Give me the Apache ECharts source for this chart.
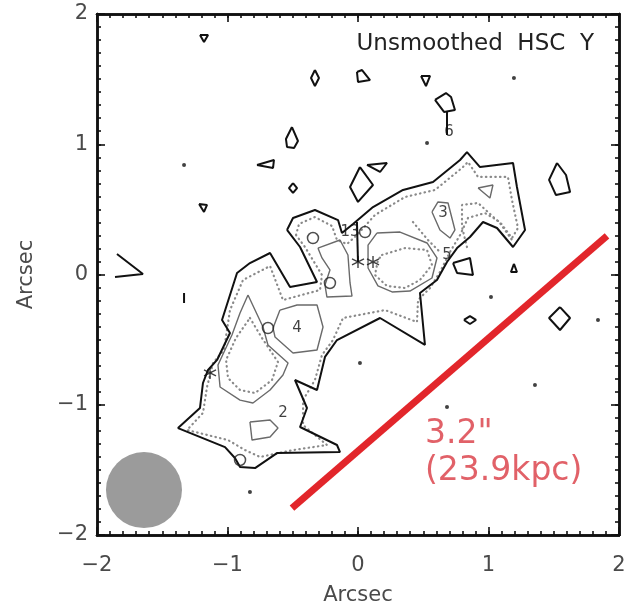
<!DOCTYPE html>
<html>
<head>
<meta charset="utf-8">
<script src="https://cdn.jsdelivr.net/npm/echarts@6/dist/echarts.min.js"></script>
<style>
  html, body { margin: 0; padding: 0; background: #ffffff; }
  #chart { width: 628px; height: 607px; }
</style>
</head>
<body>
<div id="chart"></div>
<script>
// Axis range and ticks (arcsec)
const axisMin = -2, axisMax = 2, axisStep = 1, minorStep = 0.1;

// Outer (lowest) contour level, solid black
const outerContour = [
  [-0.544,0.342],[-0.498,0.434],[-0.330,0.495],[-0.153,0.418],[-0.123,0.319],[-0.038,0.388],
  [0.115,0.518],[0.345,0.649],[0.575,0.710],[0.782,0.879],[0.835,0.940],[0.935,0.825],
  [1.188,0.856],[1.218,0.672],[1.280,0.342],[1.188,0.211],[1.065,0.357],[0.958,0.403],
  [0.858,0.288],[0.759,0.203],[0.682,0.096],[0.605,-0.042],[0.475,-0.142],[0.513,-0.541],
  [0.169,-0.334],[-0.161,-0.503],[-0.253,-0.633],[-0.314,-0.887],[-0.483,-0.810],[-0.391,-1.025],
  [-0.444,-1.171],[-0.161,-1.309],[-0.138,-1.363],[-0.621,-1.371],[-0.789,-1.486],[-0.904,-1.478],
  [-0.943,-1.409],[-1.019,-1.325],[-1.379,-1.179],[-1.211,-1.025],[-1.188,-0.833],[-1.149,-0.733],
  [-1.080,-0.656],[-0.981,-0.449],[-1.042,-0.349],[-0.927,0.012],[-0.828,0.088],[-0.674,0.165],
  [-0.521,-0.096],[-0.314,-0.058],[-0.444,0.211]
];

// Second level, dotted grey
const dottedContour = [
  [-0.475,0.303],[-0.452,0.388],[-0.330,0.441],[-0.199,0.372],[-0.161,0.265],[-0.084,0.234],
  [-0.008,0.303],[0.130,0.457],[0.360,0.595],[0.590,0.649],[0.797,0.818],[0.843,0.864],
  [0.920,0.749],[1.149,0.749],[1.180,0.572],[1.226,0.357],[1.180,0.280],[1.088,0.403],
  [0.973,0.472],[0.843,0.434],[0.782,0.303],[0.705,0.173],[0.628,0.019],[0.552,-0.104],
  [0.460,-0.196],[0.452,-0.365],[0.207,-0.273],[-0.115,-0.334],[-0.192,-0.503],[-0.276,-0.618],
  [-0.330,-0.810],[-0.421,-0.964],[-0.421,-1.156],[-0.238,-1.309],[-0.498,-1.348],[-0.751,-1.401],
  [-0.866,-1.348],[-0.996,-1.271],[-1.310,-1.194],[-1.188,-1.063],[-1.157,-0.864],[-1.111,-0.680],
  [-1.027,-0.580],[-0.981,-0.273],[-0.881,-0.042],[-0.674,0.065],[-0.575,-0.196],[-0.291,-0.119],
  [-0.276,-0.004],[-0.406,0.211]
];
const dottedCentre = [
  [0.184,0.150],[0.360,0.203],[0.529,0.188],[0.567,0.073],[0.475,-0.042],[0.360,-0.104],
  [0.222,-0.088],[0.130,-0.004],[0.153,0.111]
];
const dottedLowerLeft = [
  [-0.828,-0.334],[-0.736,-0.487],[-0.613,-0.672],[-0.659,-0.810],[-0.789,-0.910],
  [-0.904,-0.887],[-0.996,-0.795],[-1.011,-0.656],[-0.935,-0.487]
];
const dottedRightLobe = [[0.835,0.211],[0.797,0.365],[0.797,0.534],[0.920,0.549],[1.088,0.395],[1.180,0.265]];
const dottedNeck = [[0.421,0.403],[0.536,0.265],[0.628,0.173]];

// Higher levels, thin grey
const greyCentre = [
  [0.146,0.319],[0.322,0.326],[0.529,0.242],[0.605,0.127],[0.567,-0.027],[0.398,-0.127],
  [0.261,-0.134],[0.153,-0.088],[0.077,0.050],[0.077,0.226]
];
const greyRightTriangle = [[0.920,0.664],[1.034,0.687],[1.011,0.587]];
const greyPeak3 = [[0.567,0.480],[0.613,0.557],[0.690,0.549],[0.743,0.342],[0.705,0.280],[0.628,0.342]];
const greyLowerLeft = [
  [-0.843,-0.157],[-0.728,-0.403],[-0.690,-0.541],[-0.536,-0.680],[-0.575,-0.772],[-0.674,-0.887],
  [-0.805,-0.987],[-0.904,-0.964],[-1.057,-0.864],[-1.073,-0.695],[-0.966,-0.464],[-0.904,-0.296]
];
const greyPeak4 = [
  [-0.598,-0.273],[-0.467,-0.234],[-0.314,-0.234],[-0.268,-0.403],[-0.314,-0.580],
  [-0.498,-0.603],[-0.636,-0.480],[-0.651,-0.411]
];
const greyMiddle = [
  [-0.307,0.203],[-0.138,0.265],[-0.077,0.150],[-0.061,-0.065],[-0.046,-0.165],
  [-0.238,-0.173],[-0.253,-0.081],[-0.215,0.035],[-0.276,0.127]
];
const greyPeak2 = [[-0.828,-1.132],[-0.674,-1.117],[-0.613,-1.179],[-0.674,-1.248],[-0.812,-1.271]];

// Isolated noise contours, solid black
const islands = [
  [[-1.211,1.839],[-1.149,1.839],[-1.180,1.785]],
  [[-0.330,1.570],[-0.299,1.509],[-0.330,1.447],[-0.360,1.509]],
  [[-0.008,1.555],[0.031,1.570],[0.092,1.493],[0.000,1.478]],
  [[0.483,1.524],[0.552,1.524],[0.521,1.447]],
  [[0.590,1.340],[0.674,1.393],[0.713,1.363],[0.743,1.263],[0.659,1.248]],
  [[-0.506,1.132],[-0.460,1.025],[-0.490,0.971],[-0.544,0.979],[-0.552,1.040]],
  [[-0.774,0.841],[-0.644,0.879],[-0.651,0.818]],
  [[0.015,0.825],[0.115,0.687],[0.000,0.557],[-0.061,0.672]],
  [[0.069,0.841],[0.222,0.856],[0.169,0.787]],
  [[-0.498,0.702],[-0.467,0.664],[-0.498,0.626],[-0.529,0.664]],
  [[-1.218,0.541],[-1.157,0.534],[-1.180,0.480]],
  [[1.525,0.856],[1.594,0.764],[1.625,0.633],[1.517,0.610],[1.464,0.726]],
  [[0.728,0.088],[0.858,0.127],[0.881,-0.004],[0.759,0.012]],
  [[1.195,0.081],[1.218,0.019],[1.172,0.019]],
  [[0.812,-0.349],[0.858,-0.319],[0.904,-0.349],[0.858,-0.380]],
  [[1.548,-0.250],[1.625,-0.334],[1.548,-0.426],[1.464,-0.334]]
];
// Open contour strokes
const openStrokes = [
  [[-1.847,0.157],[-1.648,0.004],[-1.862,-0.019]],
  [[0.682,1.248],[0.682,1.071]],
  [[-0.008,0.403],[0.000,0.096]],
  [[-1.333,-0.142],[-1.333,-0.219]]
];
// Single-pixel peaks
const noiseDots = [
  [1.195,1.509],[0.529,1.010],[-1.333,0.841],[1.019,-0.173],[1.839,-0.349],
  [0.015,-0.680],[1.356,-0.848],[0.682,-1.017],[-0.828,-1.670]
];
// Tiny closed loops and star-shaped saddles
const smallLoops = [[-0.345,0.280],[0.054,0.326],[-0.215,-0.065],[-0.690,-0.411],[-0.904,-1.424]];
const saddles = [[0.000,0.096],[0.115,0.096],[-1.134,-0.756]];

// Contour level labels
const levelLabels = [
  { text: '13', at: [-0.061,0.326] },
  { text: '3', at: [0.651,0.472] },
  { text: '5', at: [0.682,0.150] },
  { text: '6', at: [0.697,1.094] },
  { text: '4', at: [-0.467,-0.411] },
  { text: '2', at: [-0.575,-1.063] }
];

// Beam and scale bar
const beamCentre = [-1.640,-1.655];
const beamDiameterPx = 76;
const scaleBar = [[-0.506,-1.793],[1.908,0.296]];
const scaleBarLabels = [
  { text: '3.2"', at: [0.513,-1.225] },
  { text: '(23.9kpc)', at: [0.513,-1.509] }
];

const chart = echarts.init(document.getElementById('chart'), null, { renderer: 'canvas' });

const solidStyle = { color: '#111111', width: 2 };
const greyStyle = { color: '#6a6a6a', width: 1.4 };
const dotStyle = { color: '#8a8a8a', width: 2.2, type: [0.5, 4.2], cap: 'round' };

function contour(points, style, closed, z) {
  return {
    type: 'line',
    data: closed ? points.concat([points[0]]) : points,
    showSymbol: false,
    symbol: 'none',
    lineStyle: style,
    silent: true,
    z: z || 3
  };
}

const series = [];
// beam
series.push({
  type: 'scatter', data: [beamCentre], symbol: 'circle', symbolSize: beamDiameterPx,
  itemStyle: { color: '#9b9b9b', opacity: 1 }, silent: true, z: 1
});
series.push(contour(dottedContour, dotStyle, true, 2));
series.push(contour(dottedCentre, dotStyle, true, 2));
series.push(contour(dottedLowerLeft, dotStyle, true, 2));
series.push(contour(dottedRightLobe, dotStyle, false, 2));
series.push(contour(dottedNeck, dotStyle, false, 2));
[greyCentre, greyRightTriangle, greyPeak3, greyLowerLeft, greyPeak4, greyMiddle, greyPeak2]
  .forEach(p => series.push(contour(p, greyStyle, true, 3)));
series.push(contour(outerContour, solidStyle, true, 4));
islands.forEach(p => series.push(contour(p, solidStyle, true, 4)));
openStrokes.forEach(p => series.push(contour(p, solidStyle, false, 4)));
series.push({
  type: 'scatter', data: noiseDots, symbol: 'circle', symbolSize: 4,
  itemStyle: { color: '#111111' }, silent: true, z: 4
});
series.push({
  type: 'scatter', data: smallLoops, symbol: 'circle', symbolSize: 11,
  itemStyle: { color: 'rgba(255,255,255,0)', borderColor: '#222222', borderWidth: 1.5 }, silent: true, z: 5
});
series.push({
  type: 'scatter', data: saddles, symbol: 'path://M5,0L5,10M0,2.5L10,7.5M0,7.5L10,2.5', symbolSize: 12,
  itemStyle: { color: 'none', borderColor: '#111111', borderWidth: 1.4 }, silent: true, z: 5
});
series.push({
  type: 'scatter',
  data: levelLabels.map(l => ({ value: l.at, name: l.text })),
  symbolSize: 0, silent: true, z: 6,
  label: {
    show: true, position: [0, 0], align: 'center', verticalAlign: 'middle',
    formatter: p => p.name, fontFamily: 'DejaVu Sans', fontSize: 15, color: '#111111'
  }
});
// scale bar
series.push({
  type: 'line', data: scaleBar, showSymbol: false, symbol: 'none', silent: true, z: 7,
  lineStyle: { color: '#e2262b', width: 7, cap: 'butt' }
});
series.push({
  type: 'scatter',
  data: scaleBarLabels.map(l => ({ value: l.at, name: l.text })),
  symbolSize: 0, silent: true, z: 7,
  label: {
    show: true, position: [0, 0], align: 'left', verticalAlign: 'middle',
    formatter: p => p.name, fontFamily: 'DejaVu Sans', fontSize: 33, color: '#da3a42'
  }
});
// all data series live on grid 0's axes
series.forEach(s => { s.xAxisIndex = 0; s.yAxisIndex = 0; });

const minus = v => String(v).replace('-', '\u2212');
const labelFont = { fontFamily: 'DejaVu Sans', fontSize: 21, color: '#4a4a4a' };

// Frame axes: grid 0 carries the major ticks and labels, grid 1 (same box) the 0.1" minor ticks
function frameAxis(gridIndex, position, step, tickLen, extra) {
  return Object.assign({
    type: 'value', gridIndex: gridIndex, min: axisMin, max: axisMax, interval: step, position: position,
    axisLine: { show: true, onZero: false, lineStyle: { color: '#111111', width: 2.5 } },
    axisTick: { show: true, inside: true, length: tickLen, lineStyle: { color: '#111111', width: 1.6 } },
    axisLabel: { show: false },
    splitLine: { show: false }
  }, extra || {});
}

const plotBox = { left: 97, top: 14, width: 522, height: 521, containLabel: false, outerBoundsMode: 'none' };

chart.setOption({
  animation: false,
  backgroundColor: '#ffffff',
  title: {
    text: 'Unsmoothed  HSC  Y',
    right: 34, top: 33, padding: 0,
    textStyle: { fontFamily: 'DejaVu Sans', fontSize: 23, fontWeight: 'normal', color: '#222222' }
  },
  grid: [Object.assign({}, plotBox), Object.assign({}, plotBox)],
  xAxis: [
    frameAxis(0, 'bottom', axisStep, 8, {
      name: 'Arcsec', nameLocation: 'middle', nameGap: 50, nameTextStyle: labelFont,
      axisLabel: Object.assign({ show: true, margin: 20, formatter: minus }, labelFont)
    }),
    frameAxis(0, 'top', axisStep, 8),
    frameAxis(1, 'bottom', minorStep, 4),
    frameAxis(1, 'top', minorStep, 4)
  ],
  yAxis: [
    frameAxis(0, 'left', axisStep, 8, {
      name: 'Arcsec', nameLocation: 'middle', nameGap: 60, nameRotate: 90, nameTextStyle: labelFont,
      axisLabel: Object.assign({ show: true, margin: 9, formatter: minus }, labelFont)
    }),
    frameAxis(0, 'right', axisStep, 8),
    frameAxis(1, 'left', minorStep, 4),
    frameAxis(1, 'right', minorStep, 4)
  ],
  series: series
});
</script>
</body>
</html>
